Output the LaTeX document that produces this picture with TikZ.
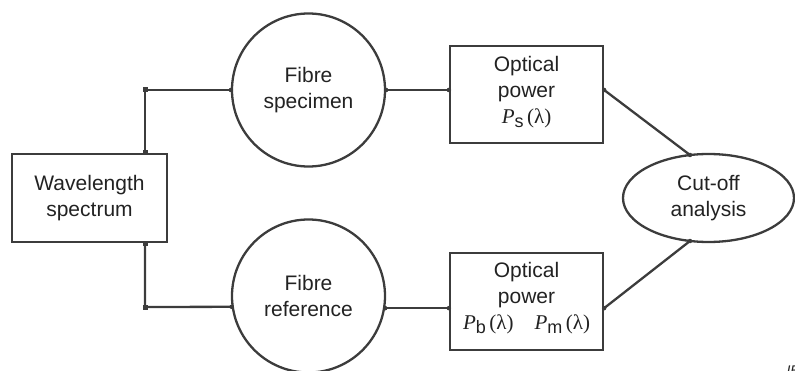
\documentclass[tikz,border=0pt]{standalone}
\usepackage{fontspec}
\setmainfont{Liberation Sans}
\newfontfamily\serifa{Liberation Serif}
\usetikzlibrary{shapes.geometric,calc}
\definecolor{ln}{HTML}{3C3C3C}
\definecolor{tx}{HTML}{222222}
\tikzset{
  blk/.style={draw=ln, line width=2.3pt, rectangle, align=center, text=tx, font=\fontsize{21}{26}\selectfont, inner sep=0pt},
  circ/.style={draw=ln, line width=2.3pt, circle, minimum size=153pt, align=center, text=tx, font=\fontsize{21}{26}\selectfont, inner sep=0pt},
  ell/.style={draw=ln, line width=2.3pt, ellipse, minimum width=171pt, minimum height=88pt, align=center, text=tx, font=\fontsize{21}{26}\selectfont, inner sep=0pt},
  wire/.style={draw=ln, line width=2.3pt},
  dot/.style={fill=ln, circle, inner sep=0pt, minimum size=4.5pt},
  sq/.style={fill=ln, rectangle, inner sep=0pt, minimum size=5pt}
}
\newcommand{\pw}[1]{{\serifa\itshape P}\raisebox{-0.4ex}{\fontsize{18}{18}\selectfont #1}\,{\serifa(λ)}}
\begin{document}
\begin{tikzpicture}[x=1pt,y=1pt]
\useasboundingbox (0,0) rectangle (795,370);
\node[blk, minimum width=155pt, minimum height=88pt] (spec) at (89.5,172) {Wavelength\\spectrum};
\node[circ] (c1) at (308.5,280) {Fibre\\specimen};
\node[circ] (c2) at (308.5,74) {Fibre\\reference};
\node[blk, minimum width=153pt, minimum height=97pt] (b1) at (526.5,275.5) {};
\node[align=center, font=\fontsize{21}{26}\selectfont, text=tx] (b1t) at (526.5,278) {Optical\\power\\\pw{s}};
\node[blk, minimum width=153pt, minimum height=97pt] (b2) at (526.5,68.5) {};
\node[align=center, font=\fontsize{21}{26}\selectfont, text=tx] (b2t) at (526.5,72) {Optical\\power\\\pw{b}\quad\pw{m}};
\node[ell] (an) at (708.5,172) {Cut-off\\analysis};
\coordinate (j1) at (spec.north -| 145,0);
\coordinate (j2) at (spec.south -| 145,0);
\coordinate (k1) at (145,280);
\coordinate (k2) at (145,63);
\coordinate (c2w) at (c2.188.3);
\coordinate (c2e) at (c2.351.7);
\coordinate (a1) at ($(an.center)+(-18.5,43)$);
\coordinate (a2) at ($(an.center)+(-18.5,-43)$);
\draw[wire] (j1) -- (k1) -- (c1.west);
\draw[wire] (j2) -- (k2) -- (c2w);
\draw[wire] (c1.east) -- (c1.east -| b1.west);
\draw[wire] (c2e) -- (c2e -| b2.west);
\draw[wire] (c1.east -| b1.east) -- (a1);
\draw[wire] (c2e -| b2.east) -- (a2);
\foreach \p in {j1,j2,k1,k2} \node[sq] at (\p) {};
\foreach \p in {c1.west,c1.east,c2w,c2e,a1,a2} \node[dot] at (\p) {};
\node[dot] at (c1.east -| b1.west) {};
\node[dot] at (c1.east -| b1.east) {};
\node[dot] at (c2e -| b2.west) {};
\node[dot] at (c2e -| b2.east) {};
\node[anchor=base west, font=\itshape\fontsize{14}{14}\selectfont, text=tx] (iec) at (783,-5) {IEC};
\end{tikzpicture}
\end{document}
